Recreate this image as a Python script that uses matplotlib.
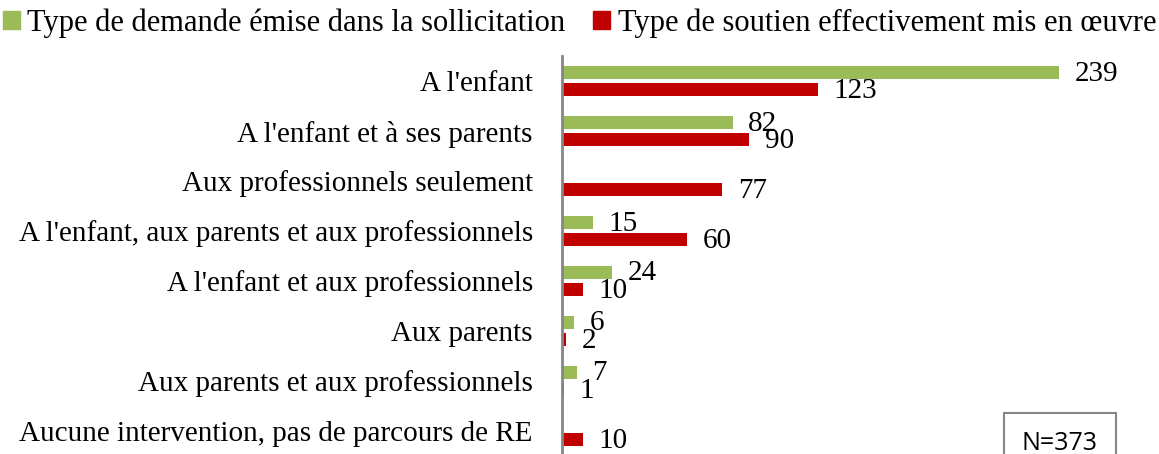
import numpy as np
import matplotlib
matplotlib.use("Agg")
import matplotlib.pyplot as plt
from matplotlib.patches import Patch

categories = [
    "A l'enfant",
    "A l'enfant et à ses parents",
    "Aux professionnels seulement",
    "A l'enfant, aux parents et aux professionnels",
    "A l'enfant et aux professionnels",
    "Aux parents",
    "Aux parents et aux professionnels",
    "Aucune intervention, pas de parcours de RE",
]
demande = [239, 82, None, 15, 24, 6, 7, None]
soutien = [123, 90, 77, 60, 10, 2, 1, 10]
series_names = ["Type de demande émise dans la sollicitation",
                "Type de soutien effectivement mis en œuvre"]
note = "N=373"

green = "#9BBB59"
red = "#C00000"
serif = ["Liberation Serif", "DejaVu Serif"]

fig = plt.figure(figsize=(11.59, 4.54), dpi=100)
ax = fig.add_axes([562 / 1159, -2 / 454, 597 / 1159, 400 / 454])

y = np.arange(len(categories))
h = 0.26
dem = np.array([np.nan if v is None else v for v in demande], dtype=float)
sou = np.array(soutien, dtype=float)

ax.barh(y - 0.17, np.nan_to_num(dem), height=h, color=green)
ax.barh(y + 0.17, sou, height=h, color=red)

ax.set_xlim(0, 287)
ax.set_ylim(len(categories) - 0.5, -0.5)

# value labels, offset from the bar end
off = 7.5
for yi, v in zip(y, dem):
    if not np.isnan(v):
        ax.text(v + off, yi - 0.15, f"{int(v)}", va="center", ha="left",
                fontsize=21, family=serif)
for yi, v in zip(y, sou):
    ax.text(v + off, yi + 0.19, f"{int(v)}", va="center", ha="left",
            fontsize=21, family=serif)

ax.set_yticks(y)
ax.set_yticklabels(categories, fontsize=21, family=serif)
ax.tick_params(axis="y", length=0, pad=21)
ax.set_xticks([])
for s in ["top", "right", "bottom"]:
    ax.spines[s].set_visible(False)
ax.spines["left"].set_color("#868686")
ax.spines["left"].set_linewidth(2)

handles = [Patch(color=green), Patch(color=red)]
fig.legend(handles, series_names, loc="center", bbox_to_anchor=(0.5, 1 - 23 / 454),
           ncol=2, frameon=False, handlelength=0.55, handleheight=0.55,
           handletextpad=0.25, columnspacing=0.9, borderaxespad=0, borderpad=0,
           prop={"family": serif, "size": 22})

fig.text(1060 / 1159, 1 - 443 / 454, note, ha="center", va="center",
         fontsize=18, family=["Open Sans", "DejaVu Sans"],
         bbox=dict(boxstyle="square,pad=0.72", fc="white", ec="#868686", lw=1.5))

fig.savefig("out.png", dpi=100)
